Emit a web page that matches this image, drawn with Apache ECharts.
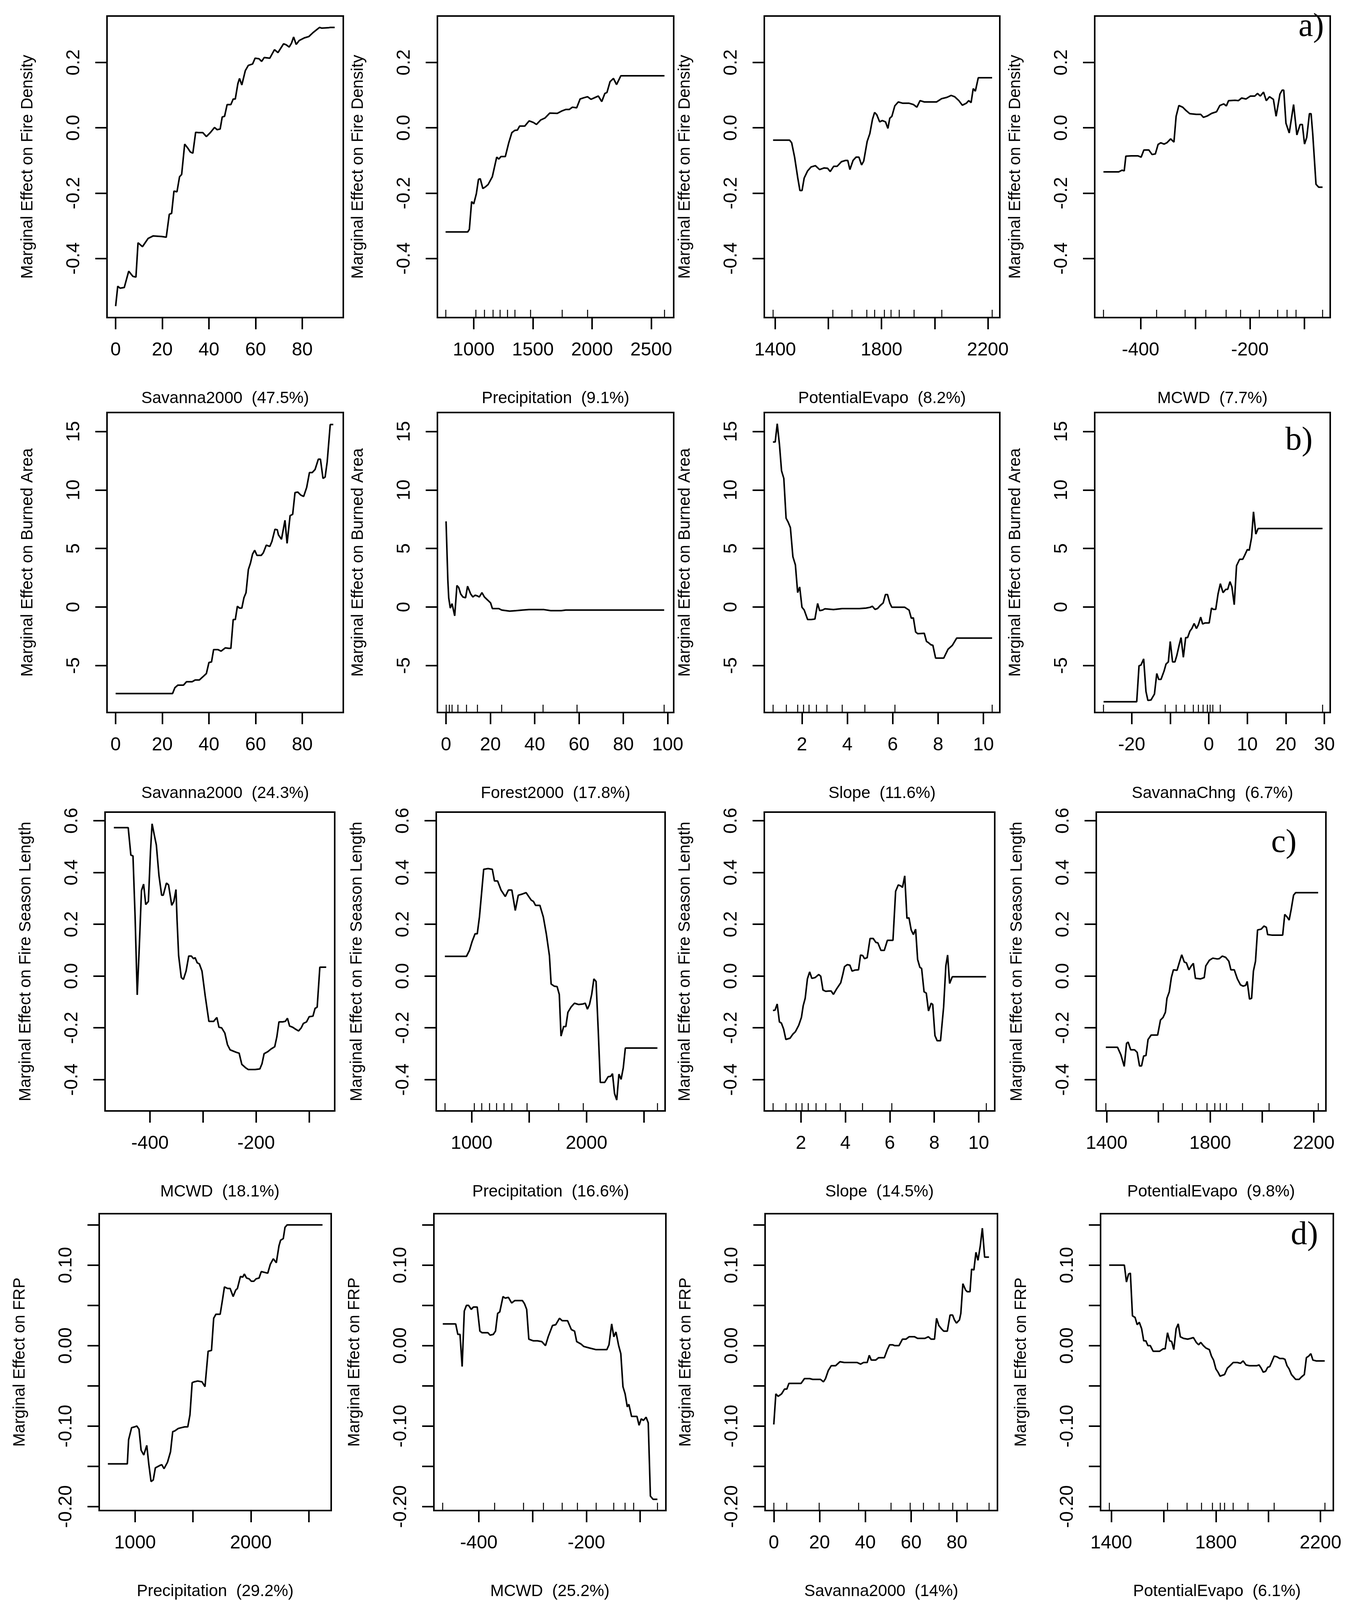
<!DOCTYPE html>
<html>
<head>
<meta charset="utf-8" />
<title>Marginal effects</title>
<script src="https://cdn.jsdelivr.net/npm/echarts@6/dist/echarts.min.js"></script>
<style>
  html, body { margin: 0; padding: 0; background: #fff; }
  #main { width: 3449px; height: 4121px; }
</style>
</head>
<body>
<div id="main"></div>
<script type="text/javascript">
// ---- data: [x, marginal effect] ----
// a) fire density
var fdSavanna = [[0,-0.546],[0.9,-0.485],[1.9,-0.491],[3.7,-0.489],[5.6,-0.439],[7.4,-0.455],[8.7,-0.457],[9.6,-0.352],[11.5,-0.364],[13.9,-0.339],[16.1,-0.331],[19.8,-0.333],[21.7,-0.335],[23,-0.265],[24,-0.262],[25,-0.194],[26.3,-0.196],[27.4,-0.150],[28.3,-0.143],[29.6,-0.050],[30.9,-0.062],[32,-0.074],[33.1,-0.078],[34.3,-0.014],[35.6,-0.015],[37.4,-0.015],[38.9,-0.027],[40.7,-0.014],[42.4,0.001],[43.5,-0.006],[44.8,-0.004],[45.7,0.033],[46.7,0.035],[47.8,0.071],[49.4,0.071],[50.4,0.088],[51.3,0.088],[52.4,0.135],[53.1,0.151],[54.1,0.131],[55.6,0.175],[56.9,0.191],[58.7,0.195],[59.8,0.213],[61.5,0.211],[62.6,0.203],[63.7,0.215],[66.1,0.213],[68.1,0.239],[69.6,0.230],[72,0.257],[73.1,0.254],[74.4,0.247],[75.4,0.259],[76.3,0.278],[77.4,0.255],[78.7,0.267],[80.9,0.275],[82.8,0.279],[84.6,0.291],[87.4,0.307],[88.3,0.305],[91.1,0.306],[92,0.307],[93.9,0.307]];
var fdPrecip = [[762,-0.319],[949,-0.319],[963,-0.311],[982,-0.226],[1000,-0.233],[1022,-0.202],[1040,-0.158],[1055,-0.156],[1077,-0.186],[1102,-0.180],[1121,-0.174],[1157,-0.150],[1194,-0.090],[1212,-0.096],[1230,-0.088],[1267,-0.088],[1296,-0.046],[1322,-0.015],[1347,-0.008],[1369,-0.007],[1388,0.005],[1431,0.005],[1468,0.021],[1505,0.016],[1530,0.010],[1567,0.024],[1603,0.030],[1643,0.045],[1706,0.044],[1742,0.051],[1779,0.056],[1808,0.056],[1834,0.063],[1870,0.061],[1899,0.088],[1932,0.092],[1962,0.095],[1991,0.087],[2016,0.091],[2053,0.097],[2082,0.080],[2108,0.105],[2126,0.108],[2152,0.141],[2181,0.151],[2207,0.132],[2243,0.159],[2327,0.159],[2612,0.159]];
var fdPET = [[1392,-0.038],[1454,-0.038],[1462,-0.046],[1473,-0.090],[1485,-0.154],[1493,-0.192],[1501,-0.192],[1509,-0.154],[1522,-0.132],[1535,-0.120],[1551,-0.116],[1567,-0.128],[1584,-0.123],[1597,-0.124],[1607,-0.134],[1620,-0.118],[1633,-0.118],[1649,-0.104],[1665,-0.100],[1673,-0.100],[1681,-0.128],[1693,-0.100],[1704,-0.090],[1715,-0.090],[1725,-0.114],[1733,-0.102],[1746,-0.042],[1756,-0.018],[1766,0.026],[1774,0.047],[1782,0.040],[1793,0.018],[1803,0.022],[1815,0.018],[1824,-0.002],[1831,0.029],[1839,0.035],[1850,0.067],[1863,0.079],[1880,0.075],[1904,0.075],[1920,0.071],[1933,0.063],[1945,0.083],[1961,0.079],[2007,0.079],[2026,0.089],[2046,0.093],[2062,0.099],[2075,0.095],[2091,0.083],[2104,0.069],[2119,0.075],[2128,0.083],[2137,0.077],[2145,0.120],[2153,0.112],[2164,0.153],[2180,0.153],[2216,0.153]];
var fdMCWD = [[-468,-0.135],[-440,-0.135],[-434,-0.130],[-430,-0.132],[-427,-0.087],[-417,-0.086],[-405,-0.086],[-399,-0.090],[-394,-0.068],[-385,-0.068],[-379,-0.082],[-373,-0.080],[-368,-0.051],[-363,-0.046],[-357,-0.050],[-352,-0.046],[-345,-0.034],[-339,-0.044],[-335,0.035],[-330,0.068],[-323,0.063],[-317,0.053],[-310,0.043],[-298,0.041],[-290,0.041],[-285,0.032],[-278,0.036],[-270,0.044],[-261,0.049],[-255,0.068],[-248,0.073],[-243,0.067],[-239,0.083],[-227,0.084],[-221,0.083],[-215,0.091],[-207,0.088],[-199,0.097],[-191,0.097],[-186,0.105],[-181,0.097],[-175,0.109],[-170,0.083],[-164,0.095],[-157,0.087],[-152,0.035],[-145,0.103],[-141,0.115],[-138,0.115],[-134,0.014],[-128,-0.016],[-120,0.071],[-114,-0.022],[-108,0.010],[-104,0.010],[-100,-0.050],[-96,-0.030],[-91,0.043],[-88,0.043],[-85,-0.018],[-79,-0.173],[-74,-0.182],[-67,-0.182]];
// b) burned area
var baSavanna = [[0,-7.39],[24.4,-7.39],[25.4,-6.89],[26.7,-6.67],[29.1,-6.67],[30.4,-6.38],[32.8,-6.38],[34.1,-6.23],[35.9,-6.23],[37.4,-5.96],[38.9,-5.68],[40,-4.74],[41.1,-4.69],[42,-3.64],[43.9,-3.64],[45.2,-3.77],[47,-3.49],[48.5,-3.53],[49.4,-3.53],[50.4,-1.07],[51.3,-1.07],[52.2,0.07],[53.1,-0.09],[54.1,-0.09],[55,0.79],[55.9,1.23],[56.9,3.20],[57.8,3.75],[58.7,4.52],[59.6,4.85],[60.6,4.41],[62.4,4.41],[63.3,4.63],[64.6,5.29],[66.1,5.18],[67,5.61],[68.3,6.64],[69.3,6.60],[69.8,6.16],[71.1,5.79],[72.6,7.41],[73.5,5.44],[74.8,7.81],[75.9,7.92],[76.9,9.78],[78.1,9.82],[79.4,9.56],[80.6,9.45],[81.9,10.22],[83.1,11.49],[84.3,11.49],[85.5,11.75],[86.9,12.63],[87.8,12.63],[88.9,10.99],[89.8,11.10],[90.7,12.41],[92,15.59],[93.3,15.59]];
var baForest = [[0,7.32],[0.8,2.32],[1.2,0.79],[1.9,-0.09],[2.7,0.29],[3.9,-0.75],[4.9,1.84],[5.7,1.67],[6.6,1.12],[7.6,0.86],[8.8,0.79],[9.7,1.78],[11.1,1.12],[12.1,0.86],[13.1,1.01],[14,0.96],[15,0.86],[16.2,1.23],[17.3,0.86],[18.9,0.57],[20.1,0.35],[20.9,-0.13],[23.8,-0.13],[25.1,-0.26],[28.7,-0.35],[31.6,-0.31],[34.5,-0.26],[37.4,-0.22],[44.2,-0.22],[47.2,-0.31],[52,-0.31],[54,-0.26],[98.4,-0.26]];
var baSlope = [[0.72,14.1],[0.82,14.1],[0.91,15.66],[1.01,13.84],[1.10,11.64],[1.20,10.99],[1.30,7.59],[1.39,7.26],[1.49,6.78],[1.60,4.30],[1.71,3.60],[1.81,1.23],[1.90,1.71],[2,-0.02],[2.10,-0.26],[2.25,-1.07],[2.40,-1.07],[2.57,-1.03],[2.69,0.31],[2.78,-0.31],[2.91,-0.26],[3.01,-0.15],[3.39,-0.22],[3.77,-0.13],[4.53,-0.13],[4.82,-0.09],[5.01,-0.02],[5.10,0.07],[5.22,-0.20],[5.33,-0.13],[5.45,0.13],[5.58,0.35],[5.68,1.07],[5.77,1.07],[5.87,0.35],[5.96,-0.02],[6.53,-0.02],[6.72,-0.26],[6.82,-0.96],[6.91,-0.92],[7.01,-2.13],[7.10,-2.28],[7.39,-2.24],[7.49,-2.94],[7.58,-3.05],[7.68,-3.22],[7.77,-3.27],[7.89,-4.36],[8.25,-4.36],[8.44,-3.60],[8.63,-3.27],[8.82,-2.65],[10.38,-2.65]];
var baSavChng = [[-27.3,-8.09],[-18.7,-8.09],[-18.1,-5.02],[-17.6,-4.96],[-16.9,-4.43],[-16.3,-7.21],[-15.8,-7.98],[-15.0,-7.94],[-14.1,-7.43],[-13.5,-5.68],[-13.0,-6.18],[-12.4,-6.18],[-11.6,-5.46],[-11.1,-4.87],[-10.5,-4.69],[-10.0,-2.94],[-9.4,-4.69],[-8.8,-4.69],[-8.3,-4.14],[-7.7,-3.27],[-7.2,-2.61],[-6.6,-4.30],[-6.0,-2.61],[-5.5,-2.61],[-4.9,-2.06],[-4.4,-1.84],[-3.8,-1.40],[-3.2,-1.84],[-2.7,-1.51],[-2.1,-0.86],[-1.6,-1.45],[-1.0,-1.36],[0.1,-1.36],[0.7,-0.09],[1.2,-0.20],[1.8,-0.20],[2.4,1.12],[3.0,2.00],[3.7,1.23],[4.4,1.51],[4.9,1.51],[5.5,2.17],[6.0,1.71],[6.6,0.20],[7.2,3.53],[8.0,4.08],[8.8,4.08],[9.3,4.41],[10.0,4.91],[10.5,4.85],[11.1,5.94],[11.6,8.14],[12.2,6.23],[12.8,6.71],[13.5,6.71],[29.5,6.71]];
// c) fire season length
var fsMCWD = [[-468,0.573],[-441,0.573],[-436,0.467],[-432,0.464],[-428,0.228],[-424,-0.073],[-420,0.118],[-416,0.330],[-412,0.355],[-408,0.276],[-403,0.288],[-399,0.482],[-396,0.588],[-392,0.546],[-388,0.506],[-383,0.387],[-378,0.312],[-375,0.312],[-369,0.359],[-365,0.352],[-359,0.273],[-355,0.288],[-351,0.334],[-349,0.218],[-346,0.079],[-341,-0.006],[-337,-0.013],[-332,0.019],[-327,0.077],[-322,0.077],[-318,0.067],[-315,0.071],[-311,0.051],[-307,0.047],[-302,0.019],[-296,-0.076],[-289,-0.175],[-280,-0.175],[-274,-0.160],[-270,-0.198],[-265,-0.200],[-259,-0.220],[-254,-0.265],[-249,-0.285],[-243,-0.290],[-237,-0.295],[-232,-0.298],[-227,-0.341],[-220,-0.354],[-215,-0.361],[-202,-0.361],[-193,-0.359],[-189,-0.339],[-185,-0.300],[-178,-0.292],[-172,-0.282],[-165,-0.273],[-161,-0.235],[-157,-0.177],[-150,-0.177],[-145,-0.175],[-141,-0.163],[-137,-0.193],[-131,-0.198],[-126,-0.205],[-120,-0.212],[-115,-0.200],[-111,-0.183],[-105,-0.177],[-100,-0.157],[-93,-0.155],[-89,-0.125],[-85,-0.120],[-80,0.034],[-68,0.034]];
var fsPrecip = [[767,0.076],[955,0.076],[981,0.099],[1004,0.133],[1030,0.163],[1049,0.163],[1068,0.228],[1086,0.317],[1105,0.412],[1143,0.415],[1180,0.412],[1199,0.367],[1226,0.367],[1256,0.332],[1293,0.307],[1320,0.332],[1350,0.332],[1380,0.253],[1406,0.312],[1444,0.317],[1474,0.322],[1500,0.305],[1519,0.293],[1538,0.288],[1556,0.273],[1594,0.273],[1624,0.228],[1650,0.163],[1677,0.079],[1692,-0.031],[1718,-0.039],[1744,-0.041],[1763,-0.071],[1778,-0.232],[1801,-0.195],[1820,-0.195],[1838,-0.140],[1865,-0.120],[1895,-0.105],[1932,-0.110],[1970,-0.108],[1989,-0.105],[2008,-0.128],[2026,-0.110],[2045,-0.071],[2064,-0.011],[2083,-0.021],[2102,-0.210],[2120,-0.411],[2158,-0.411],[2188,-0.389],[2211,-0.387],[2226,-0.377],[2244,-0.454],[2263,-0.479],[2282,-0.379],[2301,-0.399],[2320,-0.354],[2338,-0.278],[2383,-0.278],[2617,-0.278]];
var fsSlope = [[0.74,-0.133],[0.83,-0.132],[0.93,-0.108],[1.03,-0.177],[1.12,-0.182],[1.22,-0.205],[1.32,-0.245],[1.51,-0.240],[1.63,-0.225],[1.75,-0.215],[1.90,-0.190],[2.02,-0.160],[2.10,-0.115],[2.19,-0.086],[2.29,-0.011],[2.39,0.016],[2.49,-0.009],[2.64,-0.006],[2.80,0.006],[2.89,-0.001],[2.99,-0.054],[3.11,-0.059],[3.26,-0.058],[3.36,-0.058],[3.46,-0.071],[3.61,-0.049],[3.79,-0.026],[3.89,0.009],[3.96,0.036],[4.08,0.044],[4.20,0.042],[4.30,0.019],[4.43,0.023],[4.59,0.024],[4.68,0.081],[4.78,0.079],[4.86,0.067],[4.98,0.071],[5.11,0.145],[5.25,0.145],[5.37,0.130],[5.46,0.128],[5.60,0.099],[5.75,0.099],[5.89,0.138],[6.14,0.138],[6.26,0.327],[6.38,0.352],[6.51,0.347],[6.57,0.342],[6.67,0.387],[6.77,0.223],[6.86,0.225],[6.96,0.178],[7.06,0.160],[7.16,0.181],[7.25,0.064],[7.35,0.034],[7.43,0.029],[7.54,-0.061],[7.64,-0.066],[7.74,-0.135],[7.86,-0.105],[7.93,-0.110],[8.03,-0.230],[8.13,-0.250],[8.28,-0.250],[8.42,-0.120],[8.52,0.039],[8.60,0.081],[8.69,-0.029],[8.81,-0.003],[9.20,-0.003],[10.33,-0.003]];
var fsPET = [[1397,-0.275],[1442,-0.275],[1455,-0.304],[1468,-0.349],[1477,-0.260],[1483,-0.255],[1493,-0.285],[1508,-0.285],[1518,-0.295],[1527,-0.347],[1535,-0.347],[1543,-0.309],[1552,-0.307],[1560,-0.245],[1572,-0.228],[1597,-0.228],[1608,-0.170],[1618,-0.160],[1627,-0.140],[1633,-0.086],[1642,-0.061],[1650,-0.006],[1658,0.024],[1672,0.022],[1680,0.049],[1690,0.082],[1700,0.054],[1708,0.051],[1718,0.024],[1727,0.039],[1735,0.049],[1743,-0.009],[1763,-0.011],[1777,-0.006],[1783,0.039],[1797,0.061],[1810,0.069],[1827,0.066],[1835,0.067],[1847,0.077],[1860,0.072],[1872,0.057],[1880,0.024],[1893,0.024],[1905,-0.011],[1917,-0.034],[1927,-0.039],[1937,-0.036],[1943,-0.021],[1952,-0.089],[1960,-0.086],[1967,0.019],[1975,0.057],[1983,0.178],[1997,0.181],[2008,0.193],[2017,0.188],[2022,0.160],[2038,0.158],[2080,0.158],[2088,0.238],[2097,0.228],[2105,0.216],[2113,0.258],[2122,0.312],[2130,0.322],[2217,0.322]];
// d) FRP
var frpPrecip = [[765,-0.147],[933,-0.147],[944,-0.117],[970,-0.102],[996,-0.101],[1015,-0.100],[1034,-0.104],[1052,-0.130],[1075,-0.136],[1101,-0.124],[1119,-0.148],[1138,-0.169],[1157,-0.167],[1175,-0.152],[1213,-0.149],[1231,-0.148],[1250,-0.153],[1280,-0.145],[1306,-0.132],[1325,-0.107],[1343,-0.106],[1373,-0.103],[1399,-0.102],[1429,-0.101],[1455,-0.101],[1474,-0.086],[1493,-0.046],[1511,-0.045],[1541,-0.044],[1578,-0.045],[1604,-0.051],[1631,-0.007],[1660,-0.006],[1679,0.034],[1698,0.039],[1735,0.039],[1754,0.056],[1772,0.073],[1799,0.071],[1821,0.071],[1847,0.061],[1869,0.069],[1884,0.071],[1910,0.086],[1929,0.085],[1944,0.089],[1963,0.084],[1985,0.083],[2004,0.080],[2026,0.080],[2045,0.083],[2071,0.084],[2090,0.092],[2119,0.091],[2146,0.090],[2168,0.101],[2194,0.108],[2220,0.103],[2243,0.124],[2257,0.131],[2280,0.133],[2295,0.147],[2313,0.150],[2619,0.150]];
var frpMCWD = [[-467,0.027],[-443,0.027],[-439,0.014],[-435,0.014],[-431,-0.026],[-427,0.043],[-423,0.050],[-419,0.050],[-414,0.045],[-410,0.048],[-403,0.048],[-398,0.018],[-394,0.016],[-383,0.016],[-379,0.013],[-373,0.014],[-369,0.018],[-365,0.040],[-361,0.042],[-355,0.061],[-351,0.059],[-345,0.060],[-339,0.053],[-333,0.056],[-327,0.056],[-319,0.056],[-315,0.052],[-311,0.045],[-307,0.008],[-299,0.006],[-291,0.006],[-283,0.005],[-276,0.000],[-271,0.011],[-263,0.025],[-257,0.026],[-250,0.034],[-245,0.031],[-235,0.031],[-228,0.020],[-222,0.018],[-218,0.005],[-210,0.002],[-205,-0.001],[-194,-0.003],[-182,-0.005],[-170,-0.005],[-162,-0.005],[-158,0.001],[-153,0.027],[-149,0.011],[-145,0.017],[-140,0.000],[-136,-0.010],[-132,-0.051],[-128,-0.060],[-124,-0.076],[-121,-0.073],[-116,-0.088],[-106,-0.088],[-102,-0.099],[-98,-0.091],[-94,-0.093],[-89,-0.089],[-85,-0.096],[-81,-0.187],[-76,-0.191],[-68,-0.191]];
var frpSavanna = [[0,-0.098],[0.9,-0.060],[1.9,-0.063],[3.4,-0.060],[4.7,-0.054],[5.7,-0.054],[6.6,-0.047],[9.1,-0.047],[11.9,-0.047],[13.4,-0.041],[15.7,-0.041],[17,-0.042],[18.5,-0.042],[20.4,-0.042],[21.7,-0.045],[22.6,-0.041],[23.8,-0.031],[25.1,-0.025],[27,-0.025],[28.9,-0.020],[30.8,-0.021],[33.6,-0.021],[36.4,-0.021],[37.9,-0.023],[39.2,-0.021],[40.8,-0.021],[41.7,-0.012],[42.6,-0.018],[44.5,-0.018],[45.8,-0.015],[48.3,-0.015],[49.6,-0.005],[50.6,0.001],[51.9,0.001],[52.8,0.000],[54.7,0.000],[56.2,0.008],[57.7,0.008],[59.1,0.011],[61.5,0.011],[62.8,0.009],[66,0.009],[67.5,0.011],[68.7,0.008],[70.2,0.008],[71.1,0.034],[72.1,0.025],[73.2,0.021],[74.2,0.018],[75.8,0.018],[77,0.038],[78.1,0.038],[78.9,0.032],[79.8,0.028],[81.1,0.032],[81.7,0.040],[82.6,0.077],[83.8,0.069],[84.5,0.067],[85.7,0.067],[86.4,0.095],[87.4,0.094],[88.3,0.116],[89.2,0.106],[90.2,0.124],[91.1,0.146],[92.1,0.110],[94,0.110]];
var frpPET = [[1392,0.100],[1450,0.100],[1458,0.079],[1466,0.089],[1473,0.090],[1481,0.037],[1491,0.035],[1499,0.026],[1507,0.029],[1516,0.021],[1524,0.006],[1532,0.006],[1540,0.000],[1549,0.000],[1560,-0.007],[1585,-0.007],[1598,-0.004],[1606,-0.004],[1615,0.016],[1623,0.006],[1631,0.005],[1639,-0.005],[1648,0.021],[1656,0.027],[1664,0.011],[1676,0.009],[1692,0.008],[1704,0.009],[1714,0.010],[1725,0.004],[1734,0.001],[1742,0.004],[1752,0.000],[1762,-0.003],[1775,-0.005],[1783,-0.013],[1791,-0.018],[1800,-0.029],[1808,-0.033],[1816,-0.038],[1824,-0.037],[1833,-0.036],[1844,-0.028],[1854,-0.025],[1866,-0.021],[1882,-0.021],[1894,-0.022],[1904,-0.019],[1915,-0.024],[1928,-0.025],[1940,-0.025],[1956,-0.025],[1965,-0.024],[1973,-0.028],[1981,-0.033],[1990,-0.032],[1998,-0.027],[2006,-0.026],[2014,-0.020],[2023,-0.013],[2034,-0.014],[2044,-0.016],[2056,-0.016],[2064,-0.017],[2072,-0.025],[2080,-0.029],[2089,-0.036],[2097,-0.039],[2105,-0.042],[2118,-0.042],[2127,-0.039],[2138,-0.036],[2146,-0.015],[2155,-0.013],[2163,-0.010],[2171,-0.018],[2183,-0.019],[2216,-0.019]];

// rug marks (deciles of predictor)
var rugFdPrecip = [763,1018,1091,1164,1223,1285,1347,1478,1748,1960,2610];
var rugFdPET = [1392,1616,1689,1745,1774,1811,1836,1867,1922,2026,2216];
var rugFdMCWD = [-468,-371,-319,-281,-244,-217,-183,-149,-132,-116,-67];
var rugBaForest = [0,1.4,2.7,5.3,9.2,14.2,25.1,43.7,59.1,98.4];
var rugBaSlope = [0.72,1.30,1.81,2.06,2.30,2.63,3.10,3.77,4.76,6.10,10.38];
var rugBaSavChng = [-27.3,-11.3,-8.5,-6.3,-4.0,-2.7,-1.5,-0.4,0.3,1.0,3.0,29.5];
var rugFsPrecip = [767,1023,1086,1154,1218,1282,1350,1481,1756,1970,2617];
var rugFsSlope = [0.74,1.32,1.77,2.04,2.33,2.68,3.11,3.77,4.76,6.09,10.33];
var rugFsPET = [1397,1618,1692,1747,1788,1818,1838,1863,1925,2027,2217];
var rugFrpMCWD = [-467,-371,-317,-280,-245,-217,-182,-149,-128,-112,-68];
var rugFrpSavanna = [0,5.7,19.8,37,51.1,59.6,65.3,72.1,78.1,84.5,94];
var rugFrpPET = [1392,1615,1689,1745,1786,1816,1833,1866,1923,2023,2216];

// tick values
var ticksSav = [0,20,40,60,80];
var ticksForest = [0,20,40,60,80,100];
var ticksPrecip = [1000,1500,2000,2500];
var labelsPrecipAll = [1000,1500,2000,2500];
var labelsPrecip = [1000,2000];
var ticksPET = [1400,1600,1800,2000,2200];
var labelsPET = [1400,1800,2200];
var ticksMCWD = [-400,-300,-200,-100];
var labelsMCWD = [-400,-200];
var ticksSlope = [2,4,6,8,10];
var ticksSavChng = [-20,-10,0,10,20,30];
var labelsSavChng = [-20,0,10,20,30];

var rowTitles = ['Marginal Effect on Fire Density', 'Marginal Effect on Burned Area',
                 'Marginal Effect on Fire Season Length', 'Marginal Effect on FRP'];
var yTicksFD = [-0.4,-0.2,0,0.2];
var yTicksBA = [-5,0,5,10,15];
var yTicksFS = [-0.4,-0.2,0,0.2,0.4,0.6];
var yTicksFRP = [-0.2,-0.15,-0.1,-0.05,0,0.05,0.1,0.15];
var yLabelsFRP = [-0.2,-0.1,0,0.1];
var panelLetters = ['a)', 'b)', 'c)', 'd)'];

// ---- layout ----
var FONT = 'Liberation Sans';
var yRows = [
    {top: 41,   h: 772, min: -0.581, max: 0.342, ticks: yTicksFD,  labels: yTicksFD,  dec: 1},
    {top: 1056, h: 768, min: -9.01,  max: 16.62, ticks: yTicksBA,  labels: yTicksBA,  dec: 0},
    {top: 2079, h: 765, min: -0.521, max: 0.633, ticks: yTicksFS,  labels: yTicksFS,  dec: 1},
    {top: 3107, h: 760, min: -0.205, max: 0.164, ticks: yTicksFRP, labels: yLabelsFRP, dec: 2}
];
var lefts  = [[274,1120,1957,2803],[274,1120,1957,2803],[269,1117,1957,2807],[254,1111,1959,2818]];
var widths = [[605,605,603,603],[605,605,603,603],[588,586,590,588],[594,594,595,596]];
var letterPos = [[3390, 28], [3361, 1087], [3320, 2117], [3375, 3121]];

var panels = [
    {data: fdSavanna, rug: null,        xmin: -3.7, xmax: 97.6,  xt: ticksSav,     xl: ticksSav,        title: 'Savanna2000  (47.5%)'},
    {data: fdPrecip,  rug: rugFdPrecip, xmin: 693,  xmax: 2690,  xt: ticksPrecip,  xl: labelsPrecipAll, title: 'Precipitation  (9.1%)'},
    {data: fdPET,     rug: rugFdPET,    xmin: 1359, xmax: 2245,  xt: ticksPET,     xl: labelsPET,       title: 'PotentialEvapo  (8.2%)'},
    {data: fdMCWD,    rug: rugFdMCWD,   xmin: -484, xmax: -53,   xt: ticksMCWD,    xl: labelsMCWD,      title: 'MCWD  (7.7%)'},
    {data: baSavanna, rug: null,        xmin: -3.7, xmax: 97.6,  xt: ticksSav,     xl: ticksSav,        title: 'Savanna2000  (24.3%)'},
    {data: baForest,  rug: rugBaForest, xmin: -3.9, xmax: 102.7, xt: ticksForest,  xl: ticksForest,     title: 'Forest2000  (17.8%)'},
    {data: baSlope,   rug: rugBaSlope,  xmin: 0.34, xmax: 10.72, xt: ticksSlope,   xl: ticksSlope,      title: 'Slope  (11.6%)'},
    {data: baSavChng, rug: rugBaSavChng, xmin: -29.6, xmax: 31.5, xt: ticksSavChng, xl: labelsSavChng,  title: 'SavannaChng  (6.7%)'},
    {data: fsMCWD,    rug: null,        xmin: -484.6, xmax: -52, xt: ticksMCWD,    xl: labelsMCWD,      title: 'MCWD  (18.1%)'},
    {data: fsPrecip,  rug: rugFsPrecip, xmin: 692,  xmax: 2684,  xt: ticksPrecip,  xl: labelsPrecip,    title: 'Precipitation  (16.6%)'},
    {data: fsSlope,   rug: rugFsSlope,  xmin: 0.35, xmax: 10.72, xt: ticksSlope,   xl: ticksSlope,      title: 'Slope  (14.5%)'},
    {data: fsPET,     rug: rugFsPET,    xmin: 1360, xmax: 2247,  xt: ticksPET,     xl: labelsPET,       title: 'PotentialEvapo  (9.8%)'},
    {data: frpPrecip, rug: null,        xmin: 690,  xmax: 2694,  xt: ticksPrecip,  xl: labelsPrecip,    title: 'Precipitation  (29.2%)'},
    {data: frpMCWD,   rug: rugFrpMCWD,  xmin: -483.5, xmax: -52.2, xt: ticksMCWD,  xl: labelsMCWD,      title: 'MCWD  (25.2%)'},
    {data: frpSavanna, rug: rugFrpSavanna, xmin: -3.8, xmax: 97.7, xt: ticksSav,   xl: ticksSav,        title: 'Savanna2000  (14%)'},
    {data: frpPET,    rug: rugFrpPET,   xmin: 1359, xmax: 2249,  xt: ticksPET,     xl: labelsPET,       title: 'PotentialEvapo  (6.1%)'}
];

var chart = echarts.init(document.getElementById('main'), null, {renderer: 'canvas'});
var option = {
    animation: false,
    backgroundColor: '#ffffff',
    grid: [], xAxis: [], yAxis: [], series: [], graphic: []
};

panels.forEach(function (p, i) {
    var r = Math.floor(i / 4), c = i % 4;
    var yr = yRows[r];
    option.grid.push({
        left: lefts[r][c], top: yr.top, width: widths[r][c], height: yr.h,
        show: true, borderColor: '#000', borderWidth: 4, backgroundColor: 'transparent',
        containLabel: false, outerBoundsMode: 'none'
    });
    var xi = option.xAxis.length;
    option.xAxis.push({
        type: 'value', gridIndex: i, min: p.xmin, max: p.xmax, position: 'bottom',
        name: p.title, nameLocation: 'middle', nameGap: 186,
        nameTextStyle: {fontSize: 42, color: '#000', fontFamily: FONT},
        axisLine: {show: false, onZero: false}, splitLine: {show: false},
        axisTick: {show: true, inside: false, length: 30, customValues: p.xt,
                   lineStyle: {color: '#000', width: 4}},
        axisLabel: {show: true, customValues: p.xl, margin: 60, fontSize: 48,
                    color: '#000', fontFamily: FONT,
                    formatter: function (v) { return String(v); }}
    });
    if (p.rug) {
        option.xAxis.push({
            type: 'value', gridIndex: i, min: p.xmin, max: p.xmax, position: 'bottom',
            axisLine: {show: false, onZero: false}, splitLine: {show: false},
            axisTick: {show: true, inside: true, length: 20, customValues: p.rug,
                       lineStyle: {color: '#000', width: 2.5}},
            axisLabel: {show: false}
        });
    }
    option.yAxis.push({
        type: 'value', gridIndex: i, min: yr.min, max: yr.max, position: 'left',
        name: rowTitles[r], nameLocation: 'middle', nameRotate: 90, nameGap: 182,
        nameTextStyle: {fontSize: 42, color: '#000', fontFamily: FONT},
        axisLine: {show: false, onZero: false}, splitLine: {show: false},
        axisTick: {show: true, inside: false, length: 30, customValues: yr.ticks,
                   lineStyle: {color: '#000', width: 4}},
        axisLabel: {show: true, customValues: yr.labels, rotate: 90, margin: 60,
                    fontSize: 48, color: '#000', fontFamily: FONT,
                    formatter: (function (d) { return function (v) { return Number(v).toFixed(d); }; })(yr.dec)}
    });
    option.series.push({
        type: 'line', xAxisIndex: xi, yAxisIndex: i, data: p.data,
        showSymbol: false, symbol: 'none', silent: true,
        lineStyle: {color: '#000', width: 4}
    });
});

panelLetters.forEach(function (t, r) {
    option.graphic.push({
        type: 'text', x: letterPos[r][0], y: letterPos[r][1], silent: true,
        style: {text: t, fill: '#000', fontSize: 84, fontFamily: 'Liberation Serif',
                align: 'right', verticalAlign: 'top'}
    });
});

chart.setOption(option);
</script>
</body>
</html>
